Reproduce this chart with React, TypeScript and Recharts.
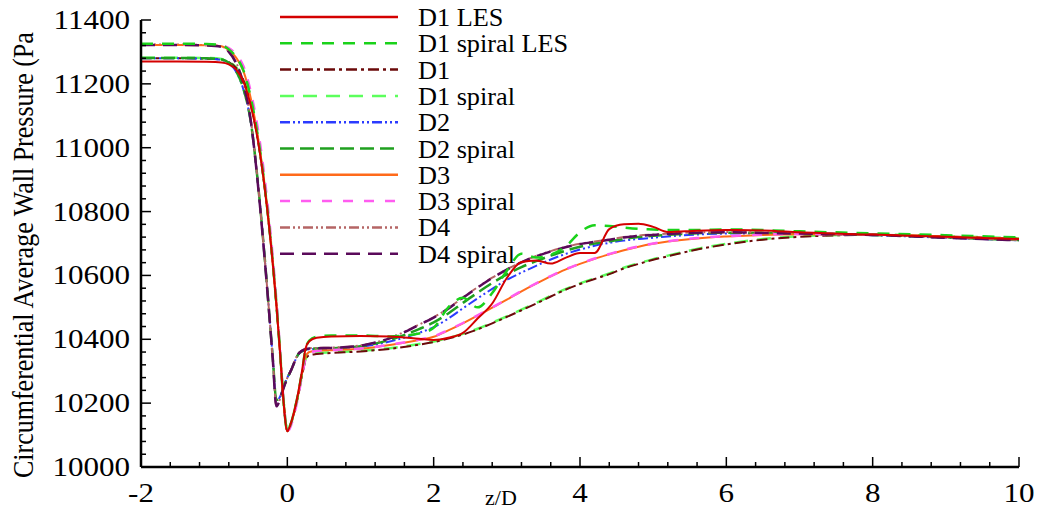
import React from 'react';
import { LineChart, Line, XAxis, YAxis, Legend } from 'recharts';

// z/D sample positions shared by all series
const Z = [-2, -1.5, -1.1, -0.9, -0.8, -0.7, -0.6, -0.5, -0.4, -0.3, -0.2, -0.15, -0.1, -0.05, 0, 0.05, 0.1, 0.15, 0.2, 0.25, 0.3, 0.4, 0.6, 1.0, 1.4, 1.8, 2.0, 2.2, 2.4, 2.6, 2.8, 3.0, 3.2, 3.4, 3.6, 3.8, 4.0, 4.2, 4.4, 4.6, 4.8, 5.0, 5.2, 5.6, 6.0, 6.5, 7.0, 8.0, 9.0, 10.0];

const D1_LES = [11270, 11270, 11269, 11267, 11261, 11245, 11207, 11132, 11020, 10858, 10640, 10510, 10360, 10200, 10112, 10138, 10180, 10235, 10300, 10372, 10394, 10405, 10409, 10410, 10409, 10402, 10398, 10405, 10420, 10465, 10512, 10592, 10642, 10647, 10637, 10655, 10670, 10670, 10745, 10760, 10762, 10752, 10736, 10740, 10742, 10741, 10735, 10728, 10721, 10714];
const D1_SPIRAL_LES = [11326, 11326, 11325, 11320, 11308, 11284, 11242, 11157, 11032, 10862, 10642, 10512, 10362, 10202, 10114, 10138, 10180, 10232, 10298, 10370, 10396, 10408, 10412, 10412, 10409, 10418, 10436, 10500, 10530, 10500, 10545, 10615, 10668, 10656, 10665, 10690, 10735, 10757, 10755, 10750, 10746, 10744, 10742, 10742, 10744, 10742, 10738, 10732, 10726, 10719];
const D1 = [11280, 11280, 11279, 11276, 11268, 11250, 11212, 11135, 11020, 10855, 10640, 10510, 10360, 10200, 10112, 10135, 10176, 10225, 10285, 10335, 10350, 10354, 10357, 10362, 10370, 10383, 10391, 10402, 10415, 10431, 10450, 10470, 10491, 10512, 10534, 10555, 10573, 10589, 10604, 10622, 10636, 10649, 10660, 10681, 10697, 10712, 10721, 10727, 10722, 10715];
const D1_SPIRAL = [11282, 11282, 11281, 11278, 11270, 11252, 11215, 11140, 11025, 10860, 10645, 10512, 10362, 10202, 10115, 10138, 10180, 10230, 10290, 10338, 10352, 10356, 10359, 10364, 10372, 10385, 10393, 10404, 10417, 10433, 10452, 10472, 10493, 10514, 10536, 10557, 10575, 10591, 10606, 10624, 10638, 10651, 10662, 10683, 10699, 10714, 10723, 10728, 10723, 10716];
const D2 = [11280, 11280, 11279, 11275, 11265, 11238, 11182, 11080, 10885, 10630, 10345, 10205, 10220, 10252, 10280, 10303, 10330, 10352, 10362, 10367, 10369, 10370, 10371, 10376, 10393, 10420, 10438, 10465, 10497, 10528, 10558, 10586, 10609, 10630, 10650, 10667, 10681, 10693, 10702, 10709, 10714, 10718, 10722, 10728, 10731, 10731, 10730, 10726, 10718, 10710];
const D2_SPIRAL = [11281, 11281, 11280, 11276, 11266, 11240, 11185, 11082, 10885, 10630, 10345, 10210, 10218, 10250, 10279, 10302, 10330, 10353, 10363, 10368, 10370, 10371, 10372, 10378, 10398, 10432, 10453, 10481, 10514, 10546, 10576, 10603, 10626, 10645, 10662, 10677, 10690, 10700, 10707, 10714, 10720, 10724, 10727, 10732, 10734, 10733, 10731, 10727, 10719, 10711];
const D3 = [11322, 11322, 11321, 11318, 11306, 11282, 11240, 11155, 11030, 10860, 10640, 10510, 10360, 10200, 10112, 10135, 10178, 10228, 10292, 10345, 10360, 10364, 10366, 10370, 10382, 10398, 10408, 10428, 10450, 10474, 10499, 10524, 10550, 10574, 10597, 10618, 10636, 10652, 10666, 10679, 10690, 10699, 10706, 10716, 10722, 10727, 10729, 10728, 10722, 10715];
const D3_SPIRAL = [11324, 11324, 11323, 11321, 11312, 11292, 11255, 11175, 11055, 10885, 10660, 10525, 10370, 10205, 10110, 10130, 10170, 10222, 10285, 10340, 10358, 10363, 10366, 10371, 10383, 10399, 10409, 10429, 10451, 10475, 10500, 10525, 10551, 10575, 10598, 10619, 10637, 10653, 10667, 10680, 10691, 10700, 10707, 10717, 10723, 10728, 10730, 10729, 10723, 10716];
const D4 = [11323, 11323, 11321, 11317, 11301, 11267, 11202, 11088, 10884, 10628, 10342, 10192, 10213, 10249, 10279, 10303, 10331, 10355, 10365, 10370, 10372, 10373, 10374, 10381, 10404, 10446, 10469, 10497, 10531, 10563, 10593, 10619, 10642, 10661, 10676, 10689, 10699, 10706, 10713, 10720, 10725, 10728, 10731, 10735, 10736, 10734, 10732, 10728, 10719, 10711];
const D4_SPIRAL = [11322, 11322, 11320, 11316, 11300, 11265, 11200, 11085, 10880, 10625, 10340, 10190, 10212, 10248, 10278, 10302, 10330, 10354, 10364, 10369, 10371, 10372, 10373, 10380, 10403, 10445, 10468, 10496, 10530, 10562, 10592, 10618, 10641, 10660, 10675, 10688, 10698, 10705, 10712, 10719, 10724, 10727, 10730, 10734, 10735, 10733, 10731, 10727, 10718, 10710];

const X_MAJOR = [-2, 0, 2, 4, 6, 8, 10];
const Y_MAJOR = [10000, 10200, 10400, 10600, 10800, 11000, 11200, 11400];
const X_MINOR_STEP = 0.4;
const Y_MINOR_STEP = 40;

type S = { key: string; name: string; values: number[]; color: string; dash?: string; width: number };

const SERIES: S[] = [
  { key: 'd1les', name: 'D1 LES', values: D1_LES, color: '#d40000', width: 2 },
  { key: 'd1sples', name: 'D1 spiral LES', values: D1_SPIRAL_LES, color: '#1ad21a', dash: '12 9', width: 2.5 },
  { key: 'd1', name: 'D1', values: D1, color: '#6b0a0a', dash: '11 4 3 4', width: 2 },
  { key: 'd1sp', name: 'D1 spiral', values: D1_SPIRAL, color: '#5cff5c', dash: '14 9', width: 2.5 },
  { key: 'd2', name: 'D2', values: D2, color: '#2b3bff', dash: '10 3 2 3 2 3', width: 2 },
  { key: 'd2sp', name: 'D2 spiral', values: D2_SPIRAL, color: '#1fa01f', dash: '14 6', width: 2.5 },
  { key: 'd3', name: 'D3', values: D3, color: '#ff6a1a', width: 2 },
  { key: 'd3sp', name: 'D3 spiral', values: D3_SPIRAL, color: '#ff5cf0', dash: '10 11', width: 2.5 },
  { key: 'd4', name: 'D4', values: D4, color: '#b56565', dash: '10 3 2 3 2 3', width: 2 },
  { key: 'd4sp', name: 'D4 spiral', values: D4_SPIRAL, color: '#5a0a5a', dash: '14 8', width: 2.5 },
];

const DRAW_ORDER = ['d1sp', 'd1', 'd2', 'd2sp', 'd4', 'd3', 'd3sp', 'd4sp', 'd1sples', 'd1les'];

const rows = Z.map((z, i) => {
  const r: any = { z };
  SERIES.forEach((s) => (r[s.key] = s.values[i]));
  return r;
});

function buildTicks(min: number, max: number, step: number) {
  const out: number[] = [];
  const n = Math.round((max - min) / step);
  for (let i = 0; i <= n; i++) out.push(+(min + i * step).toFixed(4));
  return out;
}
const xTicks = buildTicks(X_MAJOR[0], X_MAJOR[X_MAJOR.length - 1], X_MINOR_STEP);
const yTicks = buildTicks(Y_MAJOR[0], Y_MAJOR[Y_MAJOR.length - 1], Y_MINOR_STEP);

const FONT = '"Liberation Serif", "Times New Roman", serif';

const XTick = (props: any) => {
  const { x, y, payload } = props;
  const v = payload.value;
  const major = X_MAJOR.some((m) => Math.abs(m - v) < 1e-6);
  return (
    <g>
      <line x1={x} x2={x} y1={y} y2={y - (major ? 10 : 5)} stroke="#000" strokeWidth={1.5} />
      {major && (
        <text
          transform={`translate(${x},${y + 35}) scale(1.15,1)`}
          textAnchor="middle"
          fontFamily={FONT}
          fontSize={27}
          fill="#000"
        >
          {String(v)}
        </text>
      )}
    </g>
  );
};

const YTick = (props: any) => {
  const { x, y, payload } = props;
  const v = payload.value;
  const major = Y_MAJOR.some((m) => Math.abs(m - v) < 1e-6);
  return (
    <g>
      <line x1={x} x2={x + (major ? 10 : 5)} y1={y} y2={y} stroke="#000" strokeWidth={1.5} />
      {major && (
        <text
          transform={`translate(${x - 11},${y + 9}) scale(1.15,1)`}
          textAnchor="end"
          fontFamily={FONT}
          fontSize={27}
          fill="#000"
        >
          {String(v)}
        </text>
      )}
    </g>
  );
};

const renderLegend = () => (
  <svg width={330} height={275} style={{ display: 'block' }}>
    {SERIES.map((s, i) => {
      const cy = 17 + i * 26.3;
      return (
        <g key={s.key}>
          <line x1={10} x2={128} y1={cy} y2={cy} stroke={s.color} strokeWidth={2.5} strokeDasharray={s.dash} />
          <text
            transform={`translate(148,${cy + 9}) scale(1.05,1)`}
            fontFamily={FONT}
            fontSize={25}
            fill="#000"
          >
            {s.name}
          </text>
        </g>
      );
    })}
  </svg>
);

const YLabel = () => (
  <text
    transform="translate(33,478) rotate(-90) scale(1,1.12)"
    fontFamily={FONT}
    fontSize={26}
    fill="#000"
  >
    Circumferential Average Wall Pressure (Pa
  </text>
);

export default function App() {
  const byKey: Record<string, S> = {};
  SERIES.forEach((s) => (byKey[s.key] = s));
  return (
    <div style={{ position: 'absolute', left: 0, top: 0, width: 1042, height: 512, background: '#fff' }}>
      <LineChart width={1042} height={512} data={rows} margin={{ top: 20, right: 23, bottom: 0, left: 0 }}>
        <XAxis
          dataKey="z"
          type="number"
          domain={[-2, 10]}
          ticks={xTicks}
          interval={0}
          tickLine={false}
          tickSize={0}
          tickMargin={0}
          height={45}
          allowDataOverflow
          axisLine={{ stroke: '#000', strokeWidth: 2.5 }}
          tick={(p: any) => <XTick {...p} />}
          label={() => (
            <text x={501} y={505} textAnchor="middle" fontFamily={FONT} fontSize={22} fill="#000">
              z/D
            </text>
          )}
        />
        <YAxis
          type="number"
          domain={[10000, 11400]}
          ticks={yTicks}
          interval={0}
          tickLine={false}
          tickSize={0}
          tickMargin={0}
          width={141}
          allowDataOverflow
          axisLine={{ stroke: '#000', strokeWidth: 2.5 }}
          tick={(p: any) => <YTick {...p} />}
          label={() => <YLabel />}
        />
        {DRAW_ORDER.map((k) => {
          const s = byKey[k];
          return (
            <Line
              key={s.key}
              dataKey={s.key}
              name={s.name}
              type="monotone"
              stroke={s.color}
              strokeWidth={s.width}
              strokeDasharray={s.dash}
              dot={false}
              activeDot={false}
              isAnimationActive={false}
            />
          );
        })}
        <Legend
          layout="vertical"
          align="center"
          verticalAlign="middle"
          content={renderLegend}
          wrapperStyle={{ left: 270, top: 0, width: 330, height: 275 }}
        />
      </LineChart>
    </div>
  );
}
